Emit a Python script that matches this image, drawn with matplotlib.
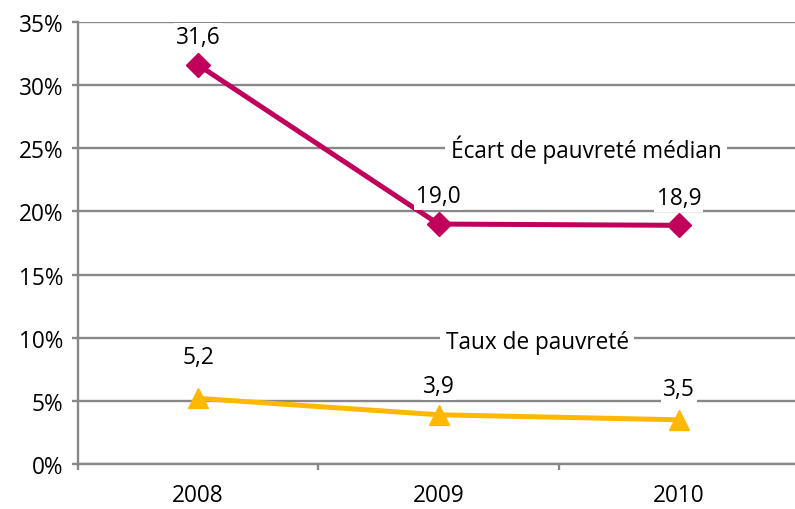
import matplotlib.pyplot as plt

# data
years = ["2008", "2009", "2010"]
ecart = [31.6, 19.0, 18.9]
taux = [5.2, 3.9, 3.5]
ecart_labels = ["31,6", "19,0", "18,9"]
taux_labels = ["5,2", "3,9", "3,5"]
y_ticks = [0, 5, 10, 15, 20, 25, 30, 35]

plt.rcParams['font.family'] = ['Open Sans', 'DejaVu Sans']

magenta = "#C0005A"
yellow = "#FFB800"
grid = "#888888"
fs = 16.3

fig = plt.figure(figsize=(7.95, 5.1), dpi=100)
ax = fig.add_axes([78 / 795, 45 / 510, 721 / 795, 442 / 510])

x = list(range(len(years)))

# gridlines
for t in y_ticks:
    ax.axhline(t, color=grid, linewidth=1.7, zorder=0)

ax.plot(x, ecart, color=magenta, linewidth=3.6, marker="D", markersize=12,
        zorder=3)
ax.plot(x, taux, color=yellow, linewidth=3.6, marker="^", markersize=15,
        zorder=3)

box = dict(facecolor="white", edgecolor="none", pad=1.5)
box2 = dict(facecolor="white", edgecolor="none", pad=4)

# value labels
for xi, v, s in zip(x, ecart, ecart_labels):
    ax.annotate(s, (xi, v), xytext=(0, 20), textcoords="offset points",
                ha="center", va="center", fontsize=fs, bbox=box, zorder=4)
for xi, v, s, off in zip(x, taux, taux_labels, [30, 21, 22]):
    ax.annotate(s, (xi, v), xytext=(0, off), textcoords="offset points",
                ha="center", va="center", fontsize=fs, bbox=box, zorder=4)

# series names
ax.text(1.614, 24.95, "Écart de pauvreté médian", ha="center", va="center",
        fontsize=fs, bbox=box2, zorder=4)
ax.text(1.41, 9.65, "Taux de pauvreté", ha="center", va="center",
        fontsize=fs, bbox=box2, zorder=4)

ax.set_xlim(-0.5, 2.5)
ax.set_ylim(0, 35)

ax.set_yticks(y_ticks)
ax.set_yticklabels([f"{t}%" for t in y_ticks], fontsize=fs)
ax.set_xticks([-0.5, 0.5, 1.5])
ax.set_xticklabels([])
ax.set_xticks(x, minor=True)
ax.set_xticklabels(years, minor=True, fontsize=fs)

ax.tick_params(axis="y", length=4.5, width=1.7, color=grid, pad=6)
ax.tick_params(axis="x", which="major", length=4.5, width=1.7, color=grid)
ax.tick_params(axis="x", which="minor", length=0, pad=14)

for side in ["top", "right"]:
    ax.spines[side].set_visible(False)
for side in ["left", "bottom"]:
    ax.spines[side].set_color(grid)
    ax.spines[side].set_linewidth(1.7)

fig.savefig("out.png", dpi=100)
